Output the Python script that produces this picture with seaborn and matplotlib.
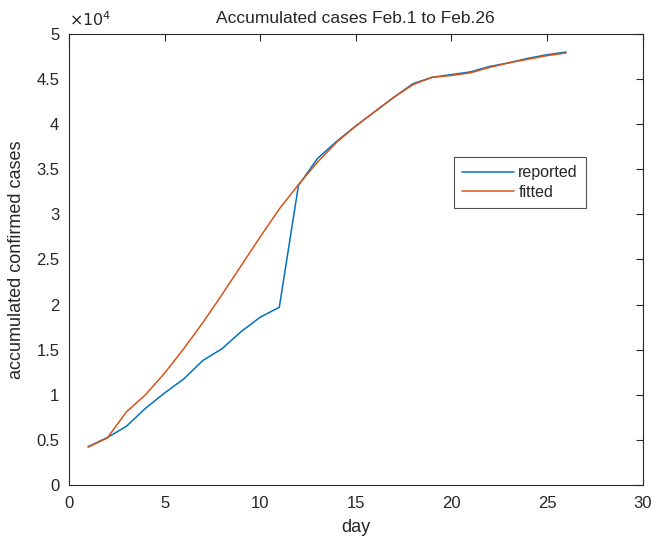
import matplotlib.pyplot as plt
import seaborn as sns
import pandas as pd
from matplotlib.ticker import FuncFormatter

days = list(range(1, 27))
reported = [4250, 5250, 6500, 8500, 10200, 11750, 13800, 15100, 17000, 18600,
            19700, 33200, 36200, 38100, 39800, 41400, 43000, 44500, 45200, 45500,
            45800, 46400, 46800, 47300, 47700, 48000]
fitted = [4200, 5200, 8100, 10000, 12400, 15100, 18000, 21100, 24300, 27500,
          30600, 33300, 35800, 38000, 39800, 41400, 43000, 44400, 45200, 45400,
          45700, 46300, 46800, 47200, 47600, 47900]

df = pd.DataFrame({
    'day': days * 2,
    'cases': reported + fitted,
    'series': ['reported'] * len(days) + ['fitted'] * len(days),
})

sns.set_style('white')
plt.rcParams['font.family'] = ['Liberation Sans', 'DejaVu Sans']

fig = plt.figure(figsize=(6.51, 5.44), dpi=100)
ax = fig.add_axes([0.106, 0.1085, 0.881, 0.829])
sns.lineplot(df, x='day', y='cases', hue='series',
             palette={'reported': '#0072BD', 'fitted': '#D95319'},
             linewidth=1.1, ax=ax)

ax.set_xlim(0, 30)
ax.set_ylim(0, 50000)
ax.set_xticks(range(0, 31, 5))
ax.set_yticks(range(0, 50001, 5000))
ax.yaxis.set_major_formatter(FuncFormatter(lambda v, p: '%g' % (v / 1e4)))
ax.tick_params(direction='in', length=5, top=True, right=True, labelsize=12,
               colors='#262626', width=0.8)
ax.tick_params(axis='x', pad=8)
ax.tick_params(axis='y', pad=7)
for s in ax.spines.values():
    s.set_color('#262626')
    s.set_linewidth(0.8)

ax.set_xlabel('day', fontsize=13, labelpad=6)
ax.set_ylabel('accumulated confirmed cases', fontsize=13, labelpad=8)
ax.set_title('Accumulated cases Feb.1 to Feb.26', fontsize=12.5, pad=8)
ax.text(0.0, 1.01, r'$\times10^4$', transform=ax.transAxes, fontsize=11.5,
        ha='left', va='bottom')

leg = ax.legend(loc='upper left', bbox_to_anchor=(0.672, 0.727), fontsize=11.5,
                frameon=True, fancybox=False, edgecolor='#262626',
                borderpad=0.5, handlelength=3.2, handletextpad=0.3,
                labelspacing=0.3, borderaxespad=0)
leg.get_frame().set_linewidth(0.8)

plt.savefig('out.png')
